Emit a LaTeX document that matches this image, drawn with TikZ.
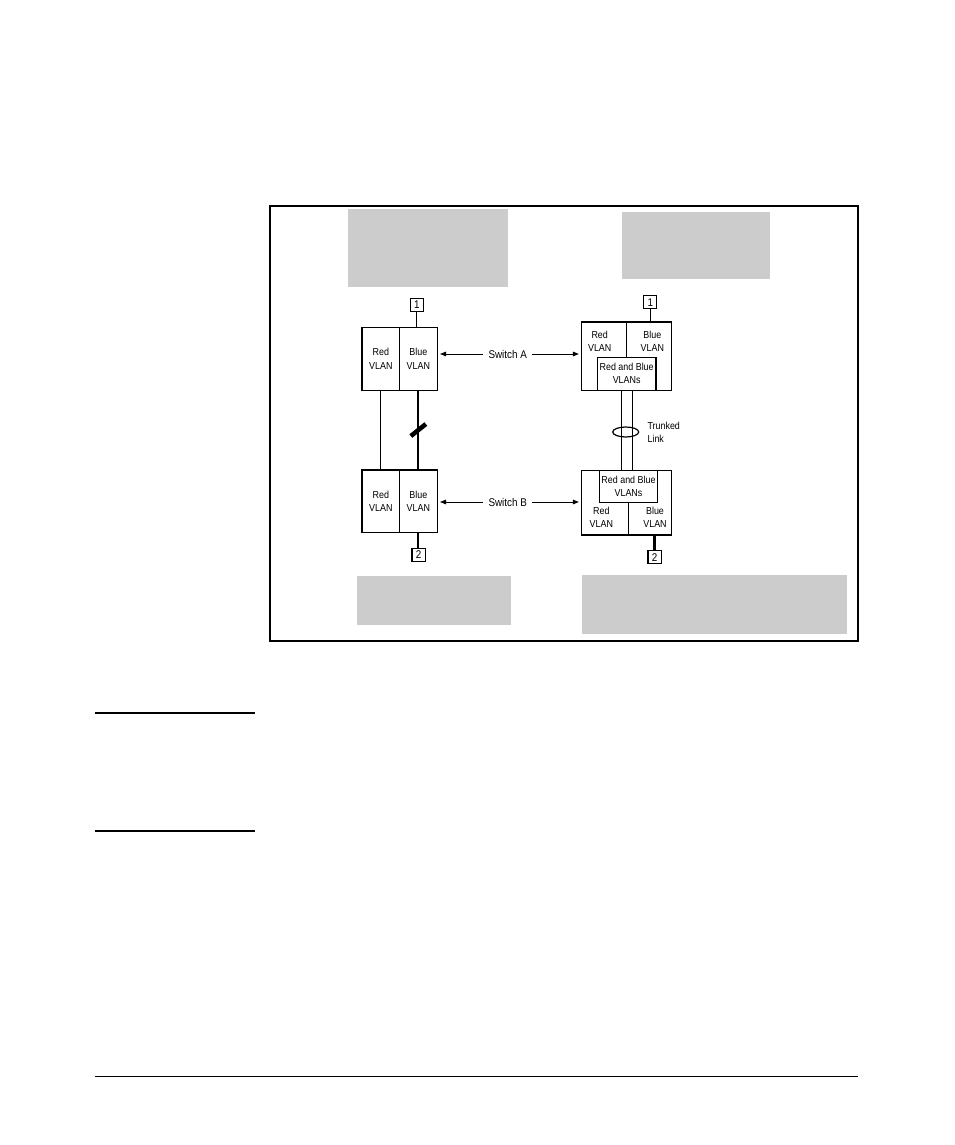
\documentclass[tikz,border=0pt]{standalone}
\usepackage{fontspec}
\setmainfont{Liberation Sans}
\newfontfamily\narrowsans[FakeStretch=0.88]{Liberation Sans}
\usetikzlibrary{arrows.meta, positioning, calc, shapes.geometric}
\definecolor{notegray}{HTML}{CCCCCC}
\newcommand{\vlanfont}{\narrowsans\fontsize{7.6}{9.8}\selectfont}
\newcommand{\swfont}{\narrowsans\fontsize{8.4}{9}\selectfont}
\newcommand{\portfont}{\narrowsans\fontsize{8.4}{9}\selectfont}
\tikzstyle{half} = [draw, line width=0.8pt, inner sep=0pt, minimum width=28.3pt, minimum height=47pt, align=center, font=\vlanfont]
\tikzstyle{switchbox} = [draw, line width=0.8pt, inner sep=0pt, minimum width=67.5pt]
\tikzstyle{trunkbox} = [draw, line width=0.8pt, inner sep=0pt, minimum width=44pt, minimum height=24.5pt, align=center, font=\vlanfont]
\tikzstyle{vlantext} = [inner sep=0pt, align=center, font=\vlanfont]
\tikzstyle{port} = [draw, line width=0.8pt, inner sep=0pt, minimum size=9.8pt, font=\portfont]
\tikzstyle{swlabel} = [inner xsep=4pt, inner ysep=1pt, font=\swfont]
\tikzstyle{thinlink} = [line width=0.75pt]
\tikzstyle{thicklink} = [line width=1.6pt]
\tikzstyle{arrow} = [line width=0.75pt, -{Triangle[length=4.5pt, width=3.4pt]}, shorten >=1.7pt]

\begin{document}
\begin{tikzpicture}[x=0.75pt, y=-0.75pt]
  \useasboundingbox (0,0) rectangle (954,1145);

  % Figure frame and grey callout areas
  \draw[line width=1.5pt] (270,206) rectangle (858,641);
  \foreach \xa/\ya/\xb/\yb in {348/209/508/287, 622/212/770/279,
                              357/576/511/625, 582/575/847/634}
    \fill[notegray] (\xa,\ya) rectangle (\xb,\yb);

  % Left pair: one link per VLAN
  \node[half] (redA)  at (380.85,358.8) {Red\\VLAN};
  \node[half] (blueA) at (418.35,358.8) {Blue\\VLAN};
  \node[half] (redB)  at (380.85,501.3) {Red\\VLAN};
  \node[half] (blueB) at (418.35,501.3) {Blue\\VLAN};
  \node[port] (portLA) at (416.8,304.7) {1};
  \node[port] (portLB) at (418.5,554.8) {2};
  \draw[thinlink] (portLA.south) -- (portLA.south |- blueA.north);
  \draw[thinlink] (redA.south) -- (redB.north);
  \draw[thicklink] (blueA.south) -- (blueB.north);
  \draw[thicklink] (blueB.south) -- (blueB.south |- portLB.north);
  % blocked link mark
  \coordinate (blockmid) at ($(blueA.south)!0.5!(blueB.north)$);
  \draw[line width=3.4pt] ($(blockmid)+(-7.5,6)$) -- ($(blockmid)+(7.5,-6)$);

  % Right pair: shared trunk
  \node[switchbox, minimum height=51.2pt] (rswA) at (626.7,356.15) {};
  \node[trunkbox] (bothA) at (626.65,373.8) {Red and Blue\\VLANs};
  \draw[thinlink] (rswA.north) -- (rswA.north |- bothA.north);
  \node[vlantext] (redRA)  at (599.7,341) {Red\\VLAN};
  \node[vlantext] (blueRA) at (652.3,341) {Blue\\VLAN};
  \node[port] (portRA) at (650.3,302.3) {1};
  \draw[thinlink] (portRA.south) -- (portRA.south |- rswA.north);

  \node[switchbox, minimum height=48.5pt] (rswB) at (626.7,502.65) {};
  \node[trunkbox] (bothB) at (628.5,486.5) {Red and Blue\\VLANs};
  \draw[thinlink] (bothB.south) -- (bothB.south |- rswB.south);
  \node[vlantext] (redRB)  at (601.3,517) {Red\\VLAN};
  \node[vlantext] (blueRB) at (655,517) {Blue\\VLAN};
  \node[port] (portRB) at (654.5,557.2) {2};
  \draw[thicklink] (portRB.north |- rswB.south) -- (portRB.north);

  % trunk lines and ring
  \draw[thinlink] ($(bothA.south)+(-5.35,0)$) -- ($(bothA.south |- rswB.north)+(-5.35,0)$);
  \draw[thinlink] ($(bothA.south)+(5.35,0)$) -- ($(bothA.south |- rswB.north)+(5.35,0)$);
  \node[draw, ellipse, line width=0.9pt, inner sep=0pt, minimum width=19.5pt, minimum height=7.5pt] (ring) at (625.7,432) {};
  \node[vlantext, align=left, anchor=west, right=6pt of ring] (trunklbl) {Trunked\\Link};

  % Switch labels with arrows
  \node[swlabel] (swA) at (507.7,354) {Switch A};
  \draw[arrow] (swA.west) -- (swA.west -| blueA.east);
  \draw[arrow] (swA.east) -- (swA.east -| rswA.west);
  \node[swlabel] (swB) at (507.7,502) {Switch B};
  \draw[arrow] (swB.west) -- (swB.west -| blueB.east);
  \draw[arrow] (swB.east) -- (swB.east -| rswB.west);

  % page rules
  \draw[line width=1.5pt] (95,713) -- (255,713);
  \draw[line width=1pt] (95,831) -- (255,831);
  \draw[line width=0.75pt] (95,1076) -- (858,1076);
\end{tikzpicture}
\end{document}
